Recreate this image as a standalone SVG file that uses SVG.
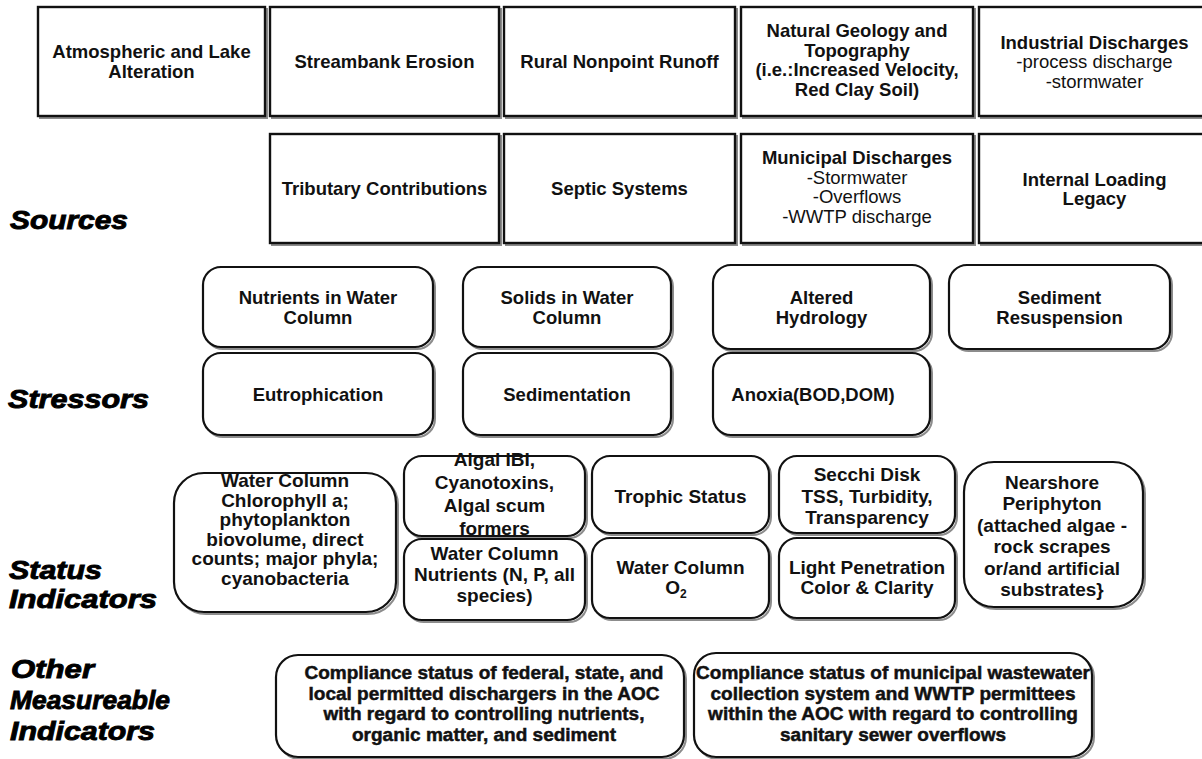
<svg xmlns="http://www.w3.org/2000/svg" width="1202" height="759" viewBox="0 0 1202 759">
<style>
  text { font-family: "Liberation Sans", Arial, sans-serif; fill: #111; }
  .src { font-size: 18.5px; font-weight: bold; text-anchor: middle; }
  .reg { font-weight: normal; }
  .frame { fill: #fff; stroke: #111; stroke-width: 2.4; }
  .shade { fill: none; stroke: #8c8c8c; stroke-width: 2; }
  .pill { fill: #fff; stroke: #111; stroke-width: 2.2; }
  .stat { font-size: 19px; font-weight: bold; text-anchor: middle; }
  .comp { font-size: 19px; font-weight: bold; text-anchor: middle; stroke: #111; stroke-width: 0.5; }
  .lbl { font-size: 25.5px; font-weight: bold; font-style: italic; fill: #000; stroke: #000; stroke-width: 0.9; }
</style>
<rect width="1202" height="759" fill="#fff"/>

<!-- category labels -->
<g id="labels">
  <text class="lbl" x="10" y="229" textLength="118" lengthAdjust="spacingAndGlyphs">Sources</text>
  <text class="lbl" x="8" y="408" textLength="141" lengthAdjust="spacingAndGlyphs">Stressors</text>
  <text class="lbl" x="9" y="579" textLength="93" lengthAdjust="spacingAndGlyphs">Status</text>
  <text class="lbl" x="9" y="608" textLength="148" lengthAdjust="spacingAndGlyphs">Indicators</text>
  <text class="lbl" x="11" y="678" textLength="83" lengthAdjust="spacingAndGlyphs">Other</text>
  <text class="lbl" x="10" y="709" textLength="160" lengthAdjust="spacingAndGlyphs">Measureable</text>
  <text class="lbl" x="10" y="740" textLength="145" lengthAdjust="spacingAndGlyphs">Indicators</text>
</g>

<!-- sources, first row -->
<g id="src-atmospheric">
  <rect class="shade" x="40" y="9" width="227" height="109"/>
  <rect class="frame" x="38" y="7" width="227" height="109"/>
  <text class="src" x="151.5" y="58">Atmospheric and Lake<tspan x="151.5" dy="19.5">Alteration</tspan></text>
</g>
<g id="src-streambank">
  <rect class="shade" x="272" y="9" width="229" height="109"/>
  <rect class="frame" x="270" y="7" width="229" height="109"/>
  <text class="src" x="384.5" y="68">Streambank Erosion</text>
</g>
<g id="src-rural">
  <rect class="shade" x="506" y="9" width="231" height="109"/>
  <rect class="frame" x="504" y="7" width="231" height="109"/>
  <text class="src" x="619.5" y="68">Rural Nonpoint Runoff</text>
</g>
<g id="src-geology">
  <rect class="shade" x="743" y="9" width="232" height="109"/>
  <rect class="frame" x="741" y="7" width="232" height="109"/>
  <text class="src" x="857" y="37">Natural Geology and<tspan x="857" dy="19.5">Topography</tspan><tspan x="857" dy="19.5">(i.e.:Increased Velocity,</tspan><tspan x="857" dy="19.5">Red Clay Soil)</tspan></text>
</g>
<g id="src-industrial">
  <rect class="shade" x="981" y="9" width="231" height="109"/>
  <rect class="frame" x="979" y="7" width="231" height="109"/>
  <text class="src" x="1094.5" y="48.5">Industrial Discharges<tspan class="reg" x="1094.5" dy="19.5">-process discharge</tspan><tspan class="reg" x="1094.5" dy="19.5">-stormwater</tspan></text>
</g>

<!-- sources, second row -->
<g id="src-tributary">
  <rect class="shade" x="272" y="136" width="229" height="109"/>
  <rect class="frame" x="270" y="134" width="229" height="109"/>
  <text class="src" x="384.5" y="195">Tributary Contributions</text>
</g>
<g id="src-septic">
  <rect class="shade" x="506" y="136" width="231" height="109"/>
  <rect class="frame" x="504" y="134" width="231" height="109"/>
  <text class="src" x="619.5" y="195">Septic Systems</text>
</g>
<g id="src-municipal">
  <rect class="shade" x="743" y="136" width="232" height="109"/>
  <rect class="frame" x="741" y="134" width="232" height="109"/>
  <text class="src" x="857" y="164">Municipal Discharges<tspan class="reg" x="857" dy="19.5">-Stormwater</tspan><tspan class="reg" x="857" dy="19.5">-Overflows</tspan><tspan class="reg" x="857" dy="19.5">-WWTP discharge</tspan></text>
</g>
<g id="src-internal">
  <rect class="shade" x="981" y="136" width="231" height="109"/>
  <rect class="frame" x="979" y="134" width="231" height="109"/>
  <text class="src" x="1094.5" y="185.5">Internal Loading<tspan x="1094.5" dy="19.5">Legacy</tspan></text>
</g>

<!-- stressors -->
<g id="str-nutrients">
  <rect class="shade" x="205" y="269" width="230" height="80" rx="18"/>
  <rect class="pill" x="203" y="267" width="230" height="80" rx="18"/>
  <text class="src" x="318" y="304">Nutrients in Water<tspan x="318" dy="19.5">Column</tspan></text>
</g>
<g id="str-solids">
  <rect class="shade" x="465" y="269" width="208" height="80" rx="18"/>
  <rect class="pill" x="463" y="267" width="208" height="80" rx="18"/>
  <text class="src" x="567" y="304">Solids in Water<tspan x="567" dy="19.5">Column</tspan></text>
</g>
<g id="str-hydrology">
  <rect class="shade" x="715" y="267" width="217" height="84" rx="18"/>
  <rect class="pill" x="713" y="265" width="217" height="84" rx="18"/>
  <text class="src" x="821.5" y="304">Altered<tspan x="821.5" dy="19.5">Hydrology</tspan></text>
</g>
<g id="str-resuspension">
  <rect class="shade" x="951" y="267" width="221" height="84" rx="18"/>
  <rect class="pill" x="949" y="265" width="221" height="84" rx="18"/>
  <text class="src" x="1059.5" y="304">Sediment<tspan x="1059.5" dy="19.5">Resuspension</tspan></text>
</g>
<g id="str-eutrophication">
  <rect class="shade" x="205" y="355" width="230" height="82" rx="18"/>
  <rect class="pill" x="203" y="353" width="230" height="82" rx="18"/>
  <text class="src" x="318" y="400.5">Eutrophication</text>
</g>
<g id="str-sedimentation">
  <rect class="shade" x="465" y="355" width="208" height="82" rx="18"/>
  <rect class="pill" x="463" y="353" width="208" height="82" rx="18"/>
  <text class="src" x="567" y="400.5">Sedimentation</text>
</g>
<g id="str-anoxia">
  <rect class="shade" x="715" y="355" width="217" height="82" rx="18"/>
  <rect class="pill" x="713" y="353" width="217" height="82" rx="18"/>
  <text class="src" x="813" y="400.5">Anoxia(BOD,DOM)</text>
</g>

<!-- status indicators -->
<g id="st-chlorophyll">
  <rect class="shade" x="176" y="475" width="222" height="139" rx="30"/>
  <rect class="pill" x="174" y="473" width="222" height="139" rx="30"/>
  <text class="stat" x="285" y="487">Water Column<tspan x="285" dy="19.6">Chlorophyll a;</tspan><tspan x="285" dy="19.6">phytoplankton</tspan><tspan x="285" dy="19.6">biovolume, direct</tspan><tspan x="285" dy="19.6">counts; major phyla;</tspan><tspan x="285" dy="19.6">cyanobacteria</tspan></text>
</g>
<g id="st-algal">
  <rect class="shade" x="406" y="458" width="181" height="80" rx="18"/>
  <rect class="pill" x="404" y="456" width="181" height="80" rx="18"/>
  <text class="stat" x="494.5" y="466">Algal IBI,<tspan x="494.5" dy="23">Cyanotoxins,</tspan><tspan x="494.5" dy="23">Algal scum</tspan><tspan x="494.5" dy="23">formers</tspan></text>
</g>
<g id="st-wc-nutrients">
  <rect class="shade" x="406" y="541" width="181" height="81" rx="18"/>
  <rect class="pill" x="404" y="539" width="181" height="81" rx="18"/>
  <text class="stat" x="494.5" y="560">Water Column<tspan x="494.5" dy="21">Nutrients (N, P, all</tspan><tspan x="494.5" dy="21">species)</tspan></text>
</g>
<g id="st-trophic">
  <rect class="shade" x="594" y="458" width="177" height="77" rx="18"/>
  <rect class="pill" x="592" y="456" width="177" height="77" rx="18"/>
  <text class="stat" x="680.5" y="503">Trophic Status</text>
</g>
<g id="st-oxygen">
  <rect class="shade" x="594" y="540" width="177" height="80" rx="18"/>
  <rect class="pill" x="592" y="538" width="177" height="80" rx="18"/>
  <text class="stat" x="680.5" y="574">Water Column</text>
  <text class="stat" x="676" y="594">O<tspan font-size="12" dy="4">2</tspan></text>
</g>
<g id="st-secchi">
  <rect class="shade" x="781" y="458" width="176" height="77" rx="18"/>
  <rect class="pill" x="779" y="456" width="176" height="77" rx="18"/>
  <text class="stat" x="867" y="481">Secchi Disk<tspan x="867" dy="21.5">TSS, Turbidity,</tspan><tspan x="867" dy="21.5">Transparency</tspan></text>
</g>
<g id="st-light">
  <rect class="shade" x="781" y="540" width="176" height="80" rx="18"/>
  <rect class="pill" x="779" y="538" width="176" height="80" rx="18"/>
  <text class="stat" x="867" y="574">Light Penetration<tspan x="867" dy="20">Color &amp; Clarity</tspan></text>
</g>
<g id="st-periphyton">
  <rect class="shade" x="966" y="464" width="179" height="145" rx="30"/>
  <rect class="pill" x="964" y="462" width="179" height="145" rx="30"/>
  <text class="stat" x="1052" y="489">Nearshore<tspan x="1052" dy="21.4">Periphyton</tspan><tspan x="1052" dy="21.4">(attached algae -</tspan><tspan x="1052" dy="21.4">rock scrapes</tspan><tspan x="1052" dy="21.4">or/and artificial</tspan><tspan x="1052" dy="21.4">substrates}</tspan></text>
</g>

<!-- other measureable indicators -->
<g id="oth-permitted">
  <rect class="shade" x="278" y="657" width="408" height="102" rx="22"/>
  <rect class="pill" x="276" y="655" width="408" height="102" rx="22"/>
  <text class="comp" x="484" y="679">Compliance status of federal, state, and<tspan x="484" dy="20.5">local permitted dischargers in the AOC</tspan><tspan x="484" dy="20.5">with regard to controlling nutrients,</tspan><tspan x="484" dy="20.5">organic matter, and sediment</tspan></text>
</g>
<g id="oth-wastewater">
  <rect class="shade" x="696" y="655" width="398" height="104" rx="22"/>
  <rect class="pill" x="694" y="653" width="398" height="104" rx="22"/>
  <text class="comp" x="893" y="679">Compliance status of municipal wastewater<tspan x="893" dy="20.5">collection system and WWTP permittees</tspan><tspan x="893" dy="20.5">within the AOC with regard to controlling</tspan><tspan x="893" dy="20.5">sanitary sewer overflows</tspan></text>
</g>

<g id="connectors"/>
</svg>
